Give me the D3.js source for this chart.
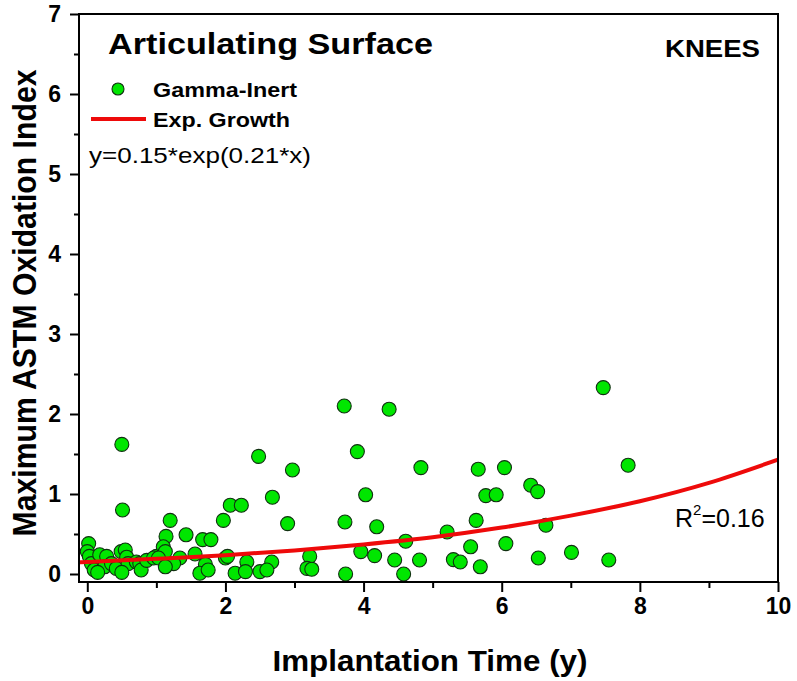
<!DOCTYPE html>
<html>
<head>
<meta charset="utf-8">
<script src="https://cdn.jsdelivr.net/npm/d3@7"></script>
<style>
  html, body { margin: 0; padding: 0; background: #fff; }
  svg { display: block; font-family: Arial, "Liberation Sans", sans-serif; }
</style>
</head>
<body>
<svg id="chart" width="797" height="681"></svg>
<script>
// ---- data ----
const xValues = [
  0.02, 0.00, 0.03, 0.06, 0.10, 0.18, 0.28, 0.25, 0.35, 0.42, 0.49, 0.55, 0.57, 0.59, 0.71, 0.76, 0.78, 0.86, 1.00, 0.96, 0.50, 0.51, 0.15, 0.50,
  1.20, 1.14, 1.43, 1.67, 1.79, 1.10, 1.13, 1.03, 1.34, 1.25, 1.13, 1.56, 1.71, 1.63, 1.75, 1.97,
  2.00, 2.03, 2.07, 2.23, 2.48, 2.97, 2.68, 2.90, 2.31, 2.67, 2.14, 2.29, 2.50, 2.60,
  3.22, 3.18, 3.25, 3.72, 3.91, 3.73, 3.96, 3.74,
  4.37, 4.83, 4.03, 4.19, 4.61, 4.16, 4.45, 4.81, 4.58,
  5.66, 5.77, 5.92, 5.63, 5.21, 5.55, 5.30, 5.40, 5.69,
  6.04, 6.42, 6.52, 6.64, 6.06, 6.53, 7.47, 7.83, 7.01, 7.55
];
const yValues = [
  0.38, 0.28, 0.22, 0.13, 0.05, 0.24, 0.22, 0.09, 0.13, 0.07, 0.28, 0.30, 0.21, 0.13, 0.15, 0.13, 0.05, 0.17, 0.22, 0.20, 1.62, 0.80, 0.02, 0.02,
  0.67, 0.47, 0.49, 0.43, 0.43, 0.34, 0.28, 0.20, 0.20, 0.13, 0.09, 0.25, 0.12, 0.01, 0.05, 0.67,
  0.20, 0.22, 0.86, 0.86, 1.47, 1.30, 0.96, 0.63, 0.15, 0.15, 0.01, 0.03, 0.03, 0.05,
  0.22, 0.07, 0.06, 2.10, 1.53, 0.65, 0.28, 0.00,
  2.06, 1.33, 0.99, 0.59, 0.41, 0.23, 0.175, 0.175, 0.00,
  1.31, 0.98, 0.99, 0.67, 0.525, 0.34, 0.18, 0.15, 0.09,
  1.33, 1.11, 1.03, 0.61, 0.38, 0.20, 2.33, 1.36, 0.27, 0.175
];
// fitted exponential growth curve
const fitX = [-0.12, 0, 1, 2, 3, 4, 5, 6, 7, 8, 9, 10];
const fitY = [0.146, 0.15, 0.19, 0.235, 0.295, 0.37, 0.46, 0.58, 0.73, 0.91, 1.14, 1.43];

const xTicks = [0, 2, 4, 6, 8, 10];
const xMinorTicks = [1, 3, 5, 7, 9];
const yTicks = [0, 1, 2, 3, 4, 5, 6, 7];
const yMinorTicks = [0.5, 1.5, 2.5, 3.5, 4.5, 5.5, 6.5];

const titleText = "Articulating Surface";
const cornerText = "KNEES";
const seriesName = "Gamma-Inert";
const fitName = "Exp. Growth";
const equationText = "y=0.15*exp(0.21*x)";
const r2Value = "0.16";
const xTitle = "Implantation Time (y)";
const yTitle = "Maximum ASTM Oxidation Index";

// ---- layout ----
const svg = d3.select("#chart");
const plotL = 79, plotR = 778, plotT = 14, plotB = 582;
const x = d3.scaleLinear().domain([-0.12, 10]).range([plotL, plotR]);
const y = d3.scaleLinear().domain([-0.1, 7]).range([plotB, plotT]);

const GREEN = "#00e600";
const RED = "#ee0a0a";

const points = xValues.map((v, i) => ({x: v, y: yValues[i]}));

const gPts = svg.append("g");
gPts.selectAll("circle").data(points).enter().append("circle")
  .attr("cx", d => x(d.x)).attr("cy", d => y(d.y)).attr("r", 7)
  .attr("fill", GREEN).attr("stroke", "#103010").attr("stroke-width", 1.1);

const line = d3.line().x(d => x(d[0])).y(d => y(d[1])).curve(d3.curveMonotoneX);
svg.append("path").datum(fitX.map((v, i) => [v, fitY[i]]))
  .attr("d", line).attr("fill", "none").attr("stroke", RED).attr("stroke-width", 4);

// frame
svg.append("rect").attr("x", plotL).attr("y", plotT).attr("width", plotR - plotL).attr("height", plotB - plotT)
  .attr("fill", "none").attr("stroke", "#000").attr("stroke-width", 2);

// axes
const xAxis = d3.axisBottom(x).tickValues(xTicks).tickSize(10).tickPadding(6).tickFormat(d3.format("d"));
const gx = svg.append("g").attr("transform", `translate(0,${plotB})`).call(xAxis);
gx.select(".domain").remove();
gx.selectAll(".tick line").attr("stroke-width", 2);
gx.selectAll(".tick text").attr("font-size", 23).attr("font-weight", "bold").attr("fill", "#000")
  .attr("font-family", "Arial, 'Liberation Sans', sans-serif");
const xAxisMinor = d3.axisBottom(x).tickValues(xMinorTicks).tickSize(6).tickFormat("");
const gxm = svg.append("g").attr("transform", `translate(0,${plotB})`).call(xAxisMinor);
gxm.select(".domain").remove();
gxm.selectAll(".tick line").attr("stroke-width", 2);

const yAxis = d3.axisLeft(y).tickValues(yTicks).tickSize(9).tickPadding(9).tickFormat(d3.format("d"));
const gy = svg.append("g").attr("transform", `translate(${plotL},0)`).call(yAxis);
gy.select(".domain").remove();
gy.selectAll(".tick line").attr("stroke-width", 2);
gy.selectAll(".tick text").attr("font-size", 23).attr("font-weight", "bold").attr("fill", "#000")
  .attr("font-family", "Arial, 'Liberation Sans', sans-serif");
const yAxisMinor = d3.axisLeft(y).tickValues(yMinorTicks).tickSize(5).tickFormat("");
const gym = svg.append("g").attr("transform", `translate(${plotL},0)`).call(yAxisMinor);
gym.select(".domain").remove();
gym.selectAll(".tick line").attr("stroke-width", 2);

// axis titles
svg.append("text").attr("x", 430).attr("y", 671).attr("text-anchor", "middle")
  .attr("font-size", 30).attr("font-weight", "bold").attr("textLength", 315).attr("lengthAdjust", "spacingAndGlyphs")
  .text(xTitle);
svg.append("text").attr("transform", "translate(36,303) rotate(-90)").attr("text-anchor", "middle")
  .attr("font-size", 34).attr("font-weight", "bold").attr("textLength", 467).attr("lengthAdjust", "spacingAndGlyphs")
  .text(yTitle);

// title & corner label
svg.append("text").attr("x", 108).attr("y", 54).attr("font-size", 30).attr("font-weight", "bold")
  .attr("textLength", 325).attr("lengthAdjust", "spacingAndGlyphs").text(titleText);
svg.append("text").attr("x", 760).attr("y", 57).attr("text-anchor", "end").attr("font-size", 24).attr("font-weight", "bold")
  .attr("textLength", 95).attr("lengthAdjust", "spacingAndGlyphs").text(cornerText);

// legend
svg.append("circle").attr("cx", 118).attr("cy", 89).attr("r", 6)
  .attr("fill", GREEN).attr("stroke", "#103010").attr("stroke-width", 1.1);
svg.append("text").attr("x", 153).attr("y", 97).attr("font-size", 21).attr("font-weight", "bold")
  .attr("textLength", 144).attr("lengthAdjust", "spacingAndGlyphs").text(seriesName);
svg.append("line").attr("x1", 91).attr("x2", 146).attr("y1", 119).attr("y2", 119)
  .attr("stroke", RED).attr("stroke-width", 4);
svg.append("text").attr("x", 153).attr("y", 127).attr("font-size", 21).attr("font-weight", "bold")
  .attr("textLength", 137).attr("lengthAdjust", "spacingAndGlyphs").text(fitName);

// equation
svg.append("text").attr("x", 89).attr("y", 163).attr("font-size", 22)
  .attr("textLength", 222).attr("lengthAdjust", "spacingAndGlyphs").text(equationText);

// R^2
const r2 = svg.append("text").attr("x", 675).attr("y", 527).attr("font-size", 25);
r2.append("tspan").text("R");
r2.append("tspan").attr("font-size", 15).attr("dy", -12).text("2");
r2.append("tspan").attr("dy", 12).text("=" + r2Value);
</script>
</body>
</html>
